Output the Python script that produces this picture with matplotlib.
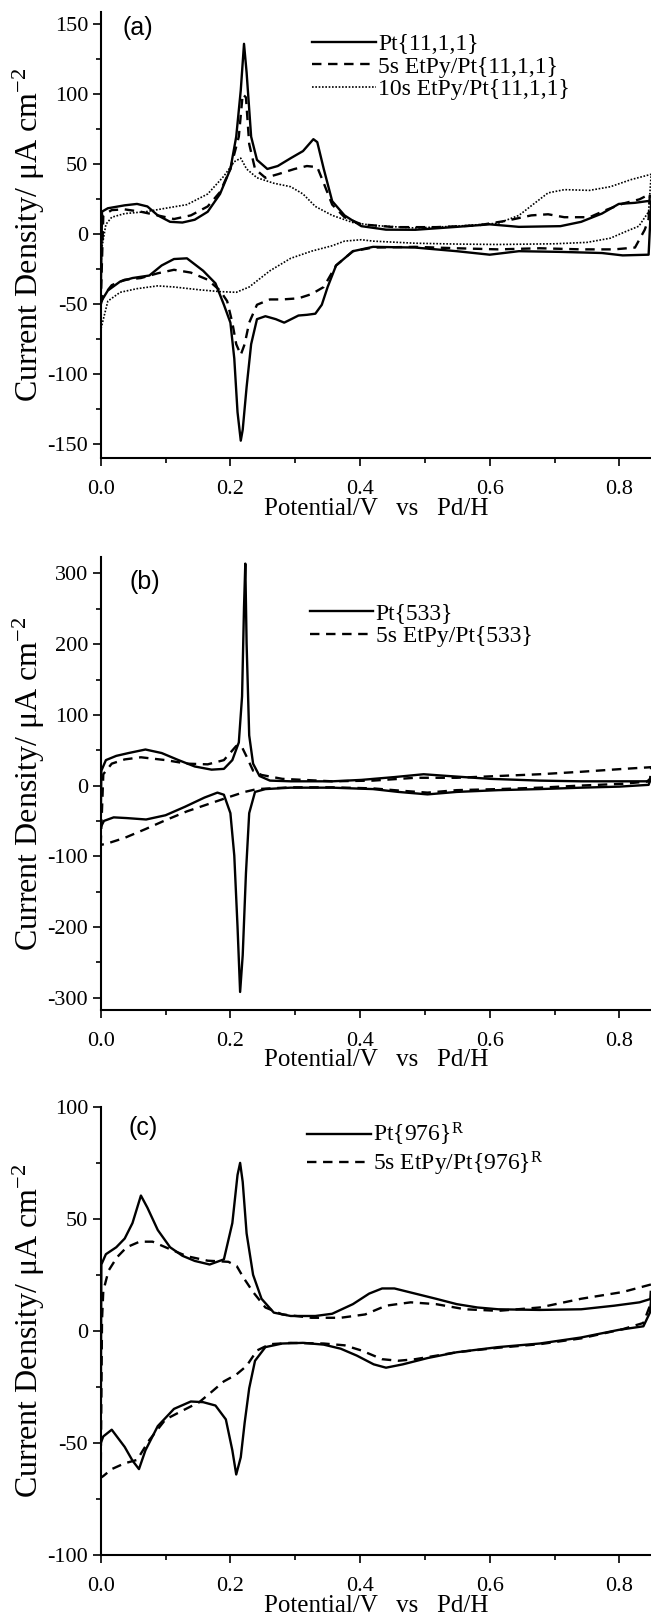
import numpy as np
import matplotlib
matplotlib.use("Agg")
import matplotlib.pyplot as plt
from matplotlib.ticker import MultipleLocator

plt.rcParams['font.family'] = ['Liberation Serif', 'DejaVu Serif']
plt.rcParams['mathtext.fontset'] = 'custom'
plt.rcParams['mathtext.rm'] = 'Liberation Serif'
plt.rcParams['mathtext.it'] = 'Liberation Serif:italic'

# ---------------- panel (a) Pt{11,1,1} ----------------
a_pt_up_x = [0.0, 0.002, 0.011, 0.037, 0.056, 0.072, 0.088, 0.107, 0.126, 0.145, 0.165, 0.184, 0.2,
             0.209, 0.216, 0.221, 0.225, 0.232, 0.241, 0.257, 0.273, 0.293, 0.312, 0.328, 0.334, 0.344,
             0.357, 0.376, 0.402, 0.44, 0.485, 0.549, 0.6, 0.645, 0.709, 0.741, 0.773, 0.799, 0.824,
             0.843, 0.849]
a_pt_up_y = [-48, 16, 18.4, 20.5, 21.5, 19.7, 13.3, 8.7, 8.2, 10.2, 15.9, 28.6, 46.5,
             69.6, 102.8, 136, 115.6, 69.6, 53, 46.5, 48.6, 54.2, 59.3, 67.8, 65.7, 46.5,
             23.5, 13.3, 5.6, 3.1, 3, 5.1, 6.9, 5.1, 5.6, 8.7, 14.6, 21.5, 22.3,
             23.5, 23]
a_pt_dn_x = [0.849, 0.845, 0.805, 0.773, 0.709, 0.645, 0.6, 0.549, 0.485, 0.42, 0.389, 0.363, 0.35,
             0.341, 0.331, 0.318, 0.305, 0.296, 0.283, 0.27, 0.254, 0.241, 0.232, 0.225, 0.219, 0.216,
             0.211, 0.206, 0.2, 0.19, 0.177, 0.158, 0.133, 0.113, 0.094, 0.075, 0.049, 0.03, 0.011,
             0.001, 0.0]
a_pt_dn_y = [23, -14.8, -15.3, -13.6, -12.8, -12.3, -14.8, -12.3, -9.7, -9.2, -12.3, -22.5, -37.9,
             -50.6, -57, -57.8, -58.3, -60.4, -63.4, -60.9, -58.8, -60.9, -78.8, -109.5, -140, -147.8,
             -127.4, -89, -63.4, -50.6, -35.3, -26.3, -17.4, -17.9, -22.5, -29.7, -31.5, -34, -40.4,
             -48, -48]

a_5s_up_x = [0.0, 0.004, 0.017, 0.037, 0.062, 0.088, 0.113, 0.139, 0.165, 0.184, 0.2, 0.213, 0.219,
             0.224, 0.229, 0.238, 0.254, 0.273, 0.299, 0.318, 0.334, 0.344, 0.357, 0.376, 0.402, 0.453,
             0.517, 0.581, 0.626, 0.664, 0.69, 0.715, 0.754, 0.779, 0.805, 0.831, 0.847]
a_5s_up_y = [-50.6, 13.3, 17.1, 17.6, 15.9, 13.3, 10.7, 13.3, 19.7, 30, 46.5, 69.6, 100,
             97.7, 64.4, 46.5, 40.2, 42.7, 46.5, 48.6, 47.8, 36.3, 21, 12, 6.9, 4.9,
             4.9, 6.1, 9.5, 13.3, 14.1, 12, 12, 17.1, 21.7, 24.8, 28.6]
a_5s_dn_x = [0.847, 0.845, 0.839, 0.824, 0.792, 0.741, 0.677, 0.613, 0.549, 0.485, 0.42, 0.389, 0.363,
             0.344, 0.325, 0.305, 0.28, 0.261, 0.241, 0.229, 0.222, 0.216, 0.209, 0.203, 0.195, 0.184,
             0.165, 0.139, 0.113, 0.088, 0.062, 0.037, 0.017, 0.004, 0.0]
a_5s_dn_y = [28.6, 10.7, 3, -9.7, -11, -11, -10.2, -11, -10.2, -9.2, -9.7, -12.3, -22.5,
             -37.9, -43, -46, -46.8, -46.8, -50.6, -63.4, -78.8, -86.4, -78.8, -63.4, -48, -40.4,
             -32.7, -27.6, -25.6, -28.1, -31.5, -32.7, -36.6, -44.2, -50.6]

a_10s_up_x = [0.0, 0.001, 0.008, 0.017, 0.037, 0.069, 0.1, 0.133, 0.165, 0.19, 0.206, 0.216, 0.225,
              0.241, 0.267, 0.293, 0.312, 0.331, 0.357, 0.389, 0.42, 0.485, 0.549, 0.613, 0.645, 0.67,
              0.69, 0.715, 0.754, 0.786, 0.818, 0.849]
a_10s_up_y = [-68.5, -12, 6.9, 12, 14.6, 15.9, 18.4, 21, 28.6, 41.4, 51.7, 54.2, 46.5,
              40.2, 36.3, 33.8, 28.6, 19.7, 13.3, 8.2, 6.1, 4.3, 5.6, 7.7, 13.3, 22.3,
              29.4, 31.7, 31.2, 33.8, 38.9, 42.7]
a_10s_dn_x = [0.849, 0.845, 0.83, 0.81, 0.786, 0.75, 0.7, 0.613, 0.549, 0.485, 0.42, 0.402, 0.376,
              0.357, 0.325, 0.293, 0.261, 0.229, 0.209, 0.184, 0.152, 0.113, 0.088, 0.056, 0.03, 0.011,
              0.0]
a_10s_dn_y = [42.7, 15.9, 5.6, 1.8, -3, -6, -7, -7.5, -7.2, -6.6, -5.1, -4.1, -5.1,
              -8.4, -12.3, -17.4, -26.3, -37.9, -41.7, -41.2, -39.9, -37.9, -37.1, -39.1, -41.7, -48,
              -68.5]

# ---------------- panel (b) Pt{533} ----------------
b_pt_up_x = [0.0, 0.001, 0.008, 0.024, 0.043, 0.069, 0.094, 0.12, 0.145, 0.171, 0.19, 0.203, 0.213,
             0.218, 0.221, 0.223, 0.225, 0.229, 0.235, 0.245, 0.261, 0.293, 0.357, 0.402, 0.453, 0.498,
             0.536, 0.6, 0.677, 0.741, 0.805, 0.843, 0.849]
b_pt_up_y = [-59, 21, 36, 42, 46, 51, 46, 36, 27, 22.5, 23.6, 36, 61,
             126, 252, 314, 201, 71, 31, 13.5, 7, 6, 6, 8, 12, 16,
             13.5, 9.5, 7, 6, 6, 6, 11]
b_pt_dn_x = [0.849, 0.845, 0.8, 0.741, 0.677, 0.613, 0.549, 0.504, 0.459, 0.42, 0.357, 0.293, 0.254,
             0.238, 0.229, 0.224, 0.219, 0.215, 0.211, 0.206, 0.2, 0.19, 0.18, 0.16, 0.13, 0.1,
             0.07, 0.04, 0.02, 0.005, 0.0]
b_pt_dn_y = [11, 1, -1.5, -3, -5, -6.5, -9, -12.5, -9, -5, -3, -3, -5,
             -9, -39, -124, -240, -292, -199.5, -99, -39, -13, -10, -17, -30, -42,
             -48, -46, -45, -50, -59]

b_5s_up_x = [0.0, 0.004, 0.017, 0.037, 0.062, 0.1, 0.133, 0.165, 0.19, 0.209, 0.217, 0.225, 0.235,
             0.248, 0.28, 0.357, 0.42, 0.485, 0.549, 0.613, 0.677, 0.741, 0.805, 0.849]
b_5s_up_y = [-84, 16, 31, 37, 40, 36, 31, 30, 36, 56, 56, 41, 21,
             15, 9.5, 6, 7, 11, 11, 13.5, 16, 19.5, 23.5, 26]
b_5s_dn_x = [0.849, 0.847, 0.805, 0.741, 0.677, 0.613, 0.549, 0.504, 0.459, 0.42, 0.357, 0.293, 0.241,
             0.222, 0.197, 0.165, 0.133, 0.1, 0.069, 0.037, 0.011, 0.0]
b_5s_dn_y = [26, 6, 2.5, 0, -3, -5, -6.5, -10, -7, -4, -2.5, -2.5, -5,
             -9, -16.5, -26.5, -36.5, -49, -61.6, -74, -81.7, -84]

# ---------------- panel (c) Pt{976}R ----------------
c_pt_up_x = [0.0, 0.001, 0.008, 0.024, 0.037, 0.049, 0.062, 0.072, 0.088, 0.107, 0.126, 0.145, 0.168,
             0.19, 0.203, 0.211, 0.215, 0.219, 0.225, 0.235, 0.248, 0.267, 0.293, 0.331, 0.357, 0.389,
             0.414, 0.434, 0.453, 0.485, 0.517, 0.549, 0.581, 0.613, 0.677, 0.741, 0.792, 0.831, 0.849]
c_pt_up_y = [-50, 29.8, 34.4, 37.5, 41.4, 48.3, 60.6, 55.2, 45.2, 37.5, 33.7, 31.4, 29.8,
             32.1, 48.3, 69.8, 75.2, 66.7, 43.7, 25.2, 14.5, 8.3, 6.8, 6.8, 7.8, 12.1,
             16.8, 19.1, 19.1, 16.8, 14.5, 12.1, 10.6, 9.8, 9.5, 9.8, 11.4, 12.9, 14.5]
c_pt_dn_x = [0.849, 0.847, 0.837, 0.799, 0.741, 0.677, 0.613, 0.549, 0.504, 0.466, 0.44, 0.421, 0.395,
             0.37, 0.344, 0.312, 0.28, 0.254, 0.238, 0.229, 0.222, 0.216, 0.209, 0.203, 0.193, 0.177,
             0.158, 0.139, 0.113, 0.088, 0.069, 0.059, 0.049, 0.037, 0.017, 0.004, 0.0]
c_pt_dn_y = [14.5, 8.3, 2.2, 0.6, -2.8, -5.5, -7.1, -9.4, -12, -14.8, -16.3, -14.8, -10.9,
             -7.8, -6, -5.2, -5.5, -7.1, -13.2, -25.5, -40.9, -56.3, -64, -53.2, -39.4, -33.2,
             -31.7, -31.4, -34.7, -42.4, -53.2, -61.6, -57.8, -51.7, -44, -47, -50]

c_5s_up_x = [0.0, 0.002, 0.004, 0.012, 0.025, 0.04, 0.06, 0.08, 0.1, 0.133, 0.165, 0.197, 0.21,
             0.22, 0.235, 0.254, 0.28, 0.325, 0.37, 0.408, 0.44, 0.478, 0.517, 0.562, 0.613, 0.677,
             0.741, 0.805, 0.849]
c_5s_up_y = [-65.5, 5, 18, 27, 33, 37.5, 40, 40, 37.5, 33.5, 31.5, 31, 29,
             24, 17.5, 10.6, 7.5, 6, 6, 7.5, 11.4, 12.9, 12.1, 9.8, 9.1, 10.6,
             14.5, 17.5, 20.9]
c_5s_dn_x = [0.849, 0.847, 0.837, 0.805, 0.741, 0.677, 0.613, 0.549, 0.485, 0.459, 0.434, 0.402, 0.376,
             0.344, 0.293, 0.261, 0.241, 0.225, 0.209, 0.19, 0.171, 0.152, 0.126, 0.1, 0.075, 0.056,
             0.037, 0.017, 0.004, 0.0]
c_5s_dn_y = [20.9, 11.4, 3.7, 0.9, -3.2, -5.8, -7.4, -9.4, -12.5, -13.2, -12.5, -8.6, -6.3,
             -5.5, -5.2, -5.8, -8.6, -15.5, -19.4, -22.4, -27.1, -31.7, -35.5, -39.4, -48.6, -57.5,
             -59, -61.6, -64.7, -65.5]

xlabel = 'Potential/V   vs   Pd/H'
ylabel = 'Current Density/ \u03bcA cm$^{\\mathregular{-2}}$'

solid = dict(color='black', lw=1.7, ls='-')
dashed = dict(color='black', lw=1.7, ls=(0, (4, 2.8)))
dotted = dict(color='black', lw=1.2, ls=(0, (1, 1)))


def loop(ux, uy, dx, dy):
    return list(ux) + list(dx), list(uy) + list(dy)


def style_axes(ax, ylim, ymajor, yminor):
    ax.set_xlim(0, 0.85)
    ax.set_ylim(*ylim)
    ax.xaxis.set_major_locator(MultipleLocator(0.2))
    ax.xaxis.set_minor_locator(MultipleLocator(0.1))
    ax.yaxis.set_major_locator(MultipleLocator(ymajor))
    ax.yaxis.set_minor_locator(MultipleLocator(yminor))
    ax.xaxis.set_major_formatter(matplotlib.ticker.FormatStrFormatter('%.1f'))
    ax.yaxis.set_major_formatter(matplotlib.ticker.FuncFormatter(lambda v, p: '%d' % v))
    for s in ['top', 'right']:
        ax.spines[s].set_visible(False)
    for s in ['left', 'bottom']:
        ax.spines[s].set_linewidth(1.5)
    ax.tick_params(which='major', direction='out', length=6, width=1.2, labelsize=16)
    ax.tick_params(which='minor', direction='out', length=3.5, width=1.2)
    ax.tick_params(axis='x', which='major', pad=10)
    ax.tick_params(axis='y', which='major', pad=3)
    ax.set_xlabel(xlabel, fontsize=18, labelpad=-1)
    ax.set_ylabel(ylabel, fontsize=23, labelpad=0)


fig = plt.figure(figsize=(6.51, 16.18), dpi=100)
ax_a = fig.add_axes([0.1547, 0.7171, 0.8466, 0.2757])
ax_b = fig.add_axes([0.1547, 0.3760, 0.8466, 0.2796])
ax_c = fig.add_axes([0.1547, 0.0389, 0.8466, 0.2767])

# (a)
x, y = loop(a_pt_up_x, a_pt_up_y, a_pt_dn_x, a_pt_dn_y)
ax_a.plot(x, y, label='Pt{11,1,1}', **solid)
x, y = loop(a_5s_up_x, a_5s_up_y, a_5s_dn_x, a_5s_dn_y)
ax_a.plot(x, y, label='5s EtPy/Pt{11,1,1}', **dashed)
x, y = loop(a_10s_up_x, a_10s_up_y, a_10s_dn_x, a_10s_dn_y)
ax_a.plot(x, y, label='10s EtPy/Pt{11,1,1}', **dotted)
style_axes(ax_a, (-160, 159), 50, 25)
ax_a.text(0.068, 0.963, '(a)', transform=ax_a.transAxes, fontsize=18,
          family='Liberation Sans', ha='center', va='center')

# (b)
x, y = loop(b_pt_up_x, b_pt_up_y, b_pt_dn_x, b_pt_dn_y)
ax_b.plot(x, y, label='Pt{533}', **solid)
x, y = loop(b_5s_up_x, b_5s_up_y, b_5s_dn_x, b_5s_dn_y)
ax_b.plot(x, y, label='5s EtPy/Pt{533}', **dashed)
style_axes(ax_b, (-317, 323), 100, 50)
ax_b.text(0.08, 0.945, '(b)', transform=ax_b.transAxes, fontsize=18,
          family='Liberation Sans', ha='center', va='center')

# (c)
x, y = loop(c_pt_up_x, c_pt_up_y, c_pt_dn_x, c_pt_dn_y)
ax_c.plot(x, y, label='Pt{976}$^{\\mathregular{R}}$', **solid)
x, y = loop(c_5s_up_x, c_5s_up_y, c_5s_dn_x, c_5s_dn_y)
ax_c.plot(x, y, label='5s EtPy/Pt{976}$^{\\mathregular{R}}$', **dashed)
style_axes(ax_c, (-100, 100), 50, 25)
ax_c.text(0.077, 0.955, '(c)', transform=ax_c.transAxes, fontsize=18,
          family='Liberation Sans', ha='center', va='center')

leg_kw = dict(frameon=False, fontsize=17, handlelength=2.7, handletextpad=0.1,
              labelspacing=0.05, borderpad=0, borderaxespad=0, loc='upper left')
ax_a.legend(bbox_to_anchor=(0.383, 0.951), **leg_kw)
ax_b.legend(bbox_to_anchor=(0.379, 0.899), **leg_kw)
ax_c.legend(bbox_to_anchor=(0.375, 0.969), **leg_kw)

fig.savefig('out.png', dpi=100)
